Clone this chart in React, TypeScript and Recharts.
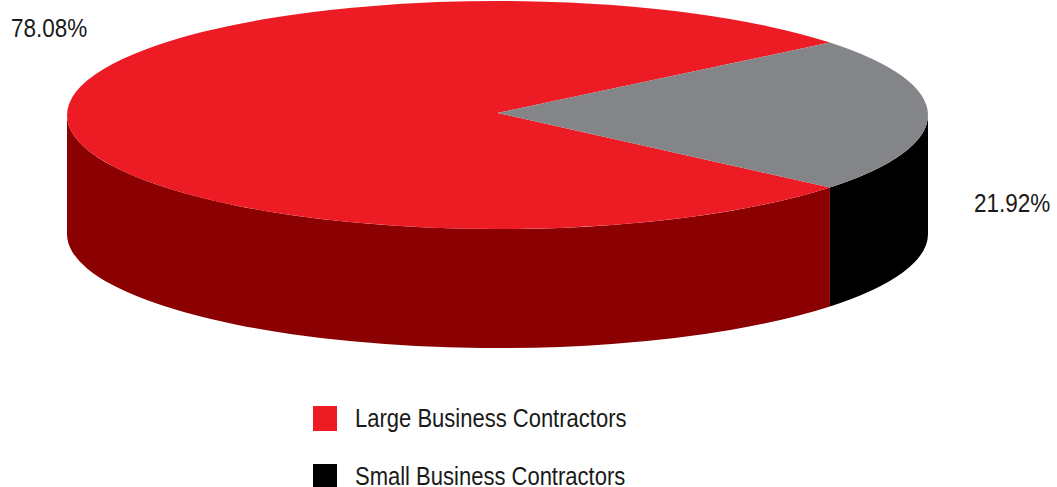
import { PieChart, Pie, Cell, Legend } from "recharts";

const categories = ["Large Business Contractors", "Small Business Contractors"];
const shares = [78.08, 21.92];
const shareLabels = ["78.08%", "21.92%"];

const TOP_COLORS = ["#ed1c24", "#838588"];
const WALL_COLORS = ["#8b0000", "#000000"];
const LEGEND_COLORS = ["#ed1c24", "#000000"];
const LABEL_POS = [
  { x: 11, y: 37 },
  { x: 974, y: 212 },
];

const FONT = '"Liberation Sans", Arial, sans-serif';
const TILT = 114 / 430.5; // flatten the circle into the ellipse
const DEPTH = 119;
const APEX_LIFT = 2; // the wedge tip sits a little above the ellipse centre
const START = 39.46;

const data = categories.map((name, i) => ({ name, value: shares[i] }));

// point on the flattened rim, angle in degrees counter-clockwise like recharts
function rim(cx: number, cy: number, r: number, deg: number) {
  const t = (deg * Math.PI) / 180;
  return { x: cx + r * Math.cos(t), y: cy - r * TILT * Math.sin(t) };
}

function Slab(props: any) {
  const { cx, cy, outerRadius: r, startAngle, endAngle, index } = props;
  const ry = r * TILT;
  const a = rim(cx, cy, r, startAngle);
  const b = rim(cx, cy, r, endAngle);
  const large = Math.abs(endAngle - startAngle) > 180 ? 1 : 0;
  const top = `M${cx},${cy - APEX_LIFT} L${a.x},${a.y} A${r},${ry} 0 ${large} 0 ${b.x},${b.y} Z`;

  // only the part of the rim on the front half of the disc shows a wall
  const wallStart = Math.max(startAngle, 180);
  const wallEnd = Math.min(endAngle, 360);
  let wall = null;
  if (wallEnd > wallStart) {
    const w0 = rim(cx, cy, r, wallStart);
    const w1 = rim(cx, cy, r, wallEnd);
    const d =
      `M${w0.x},${w0.y} A${r},${ry} 0 0 0 ${w1.x},${w1.y} L${w1.x},${w1.y + DEPTH} ` +
      `A${r},${ry} 0 0 1 ${w0.x},${w0.y + DEPTH} Z`;
    wall = <path d={d} fill={WALL_COLORS[index]} />;
  }
  return (
    <g>
      {wall}
      <path d={top} fill={TOP_COLORS[index]} />
    </g>
  );
}

function ShareLabel(props: any) {
  const { index } = props;
  return (
    <text
      transform={`translate(${LABEL_POS[index].x},${LABEL_POS[index].y}) scale(0.9,1)`}
      fontFamily={FONT}
      fontSize={25}
      fill="#1a1a1a"
    >
      {shareLabels[index]}
    </text>
  );
}

function LegendList() {
  return (
    <div style={{ fontFamily: FONT, fontSize: 25, lineHeight: "22px", color: "#1a1a1a" }}>
      {categories.map((name, i) => (
        <div key={name} style={{ display: "flex", alignItems: "center", height: 25, marginBottom: 33 }}>
          <span style={{ width: 24, height: 25, background: LEGEND_COLORS[i], marginRight: 18, flex: "none" }} />
          <span
            style={{
              display: "inline-block",
              whiteSpace: "nowrap",
              transform: "translateY(-1.5px) scaleX(0.88)",
              transformOrigin: "left center",
            }}
          >
            {name}
          </span>
        </div>
      ))}
    </div>
  );
}

export default function App() {
  return (
    <div style={{ position: "absolute", left: 0, top: 0, width: 1057, height: 487, overflow: "hidden" }}>
      <PieChart width={1057} height={487} margin={{ top: 0, right: 0, bottom: 0, left: 0 }}>
        <Pie
          data={data}
          dataKey="value"
          nameKey="name"
          cx={497.5}
          cy={115}
          outerRadius={430.5}
          startAngle={START}
          endAngle={START + 360}
          stroke="none"
          shape={Slab}
          label={ShareLabel}
          labelLine={false}
          isAnimationActive={false}
        >
          {data.map((d, i) => (
            <Cell key={d.name} fill={TOP_COLORS[i]} />
          ))}
        </Pie>
        <Legend
          content={<LegendList />}
          wrapperStyle={{ position: "absolute", left: 313, top: 406, width: 400, bottom: "auto" }}
        />
      </PieChart>
    </div>
  );
}
